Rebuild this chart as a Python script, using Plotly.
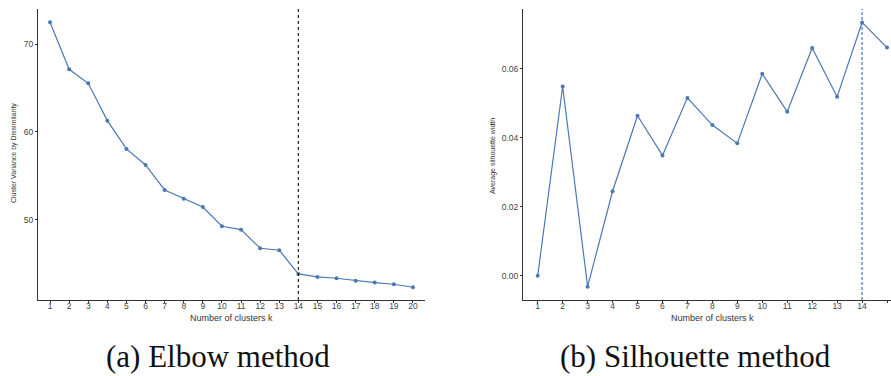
import plotly.graph_objects as go

k_elbow = list(range(1, 21))
variance = [72.47, 67.12, 65.53, 61.29, 58.07, 56.25, 53.41, 52.42, 51.47, 49.28,
            48.90, 46.78, 46.56, 43.86, 43.52, 43.37, 43.10, 42.88, 42.69, 42.35]
k_sil = list(range(1, 16))
silhouette = [0.0, 0.0549, -0.0032, 0.0245, 0.0464, 0.0349, 0.0516, 0.0437, 0.0384,
              0.0586, 0.0476, 0.0661, 0.0519, 0.0735, 0.0662]
optimal_k = 14
elbow_ticks = [50, 60, 70]
sil_ticks = [0.0, 0.02, 0.04, 0.06]
sil_tick_text = ["0.00", "0.02", "0.04", "0.06"]

W, H = 891, 376
line_color = "#4a78b3"
axis_col = "#333333"
tick_font = dict(family="Liberation Sans, Arial", size=8.5, color="#444444")

fig = go.Figure()
fig.add_trace(go.Scatter(x=k_elbow, y=variance, mode="lines+markers",
                         line=dict(color=line_color, width=1.2),
                         marker=dict(color=line_color, size=4, symbol="circle"),
                         xaxis="x", yaxis="y", showlegend=False))
fig.add_trace(go.Scatter(x=k_sil, y=silhouette, mode="lines+markers",
                         line=dict(color=line_color, width=1.2),
                         marker=dict(color=line_color, size=4, symbol="circle"),
                         xaxis="x2", yaxis="y2", showlegend=False))

y0 = 1 - 300 / H
y1 = 1 - 9 / H
common = dict(showgrid=False, zeroline=False, showline=True, linecolor=axis_col,
              linewidth=1, ticks="outside", ticklen=2, tickcolor=axis_col,
              tickfont=tick_font)

fig.update_layout(
    width=W, height=H, margin=dict(l=0, r=0, t=0, b=0),
    paper_bgcolor="white", plot_bgcolor="white",
    xaxis=dict(domain=[38 / W, 425 / W], range=[0.37, 20.63], tickvals=k_elbow,
               anchor="y", ticklabelstandoff=-4, **common),
    yaxis=dict(domain=[y0, y1], range=[40.9, 73.98], tickvals=elbow_ticks,
               anchor="x", **common),
    xaxis2=dict(domain=[523 / W, 1.0], range=[0.41, 15.16], tickvals=k_sil,
                anchor="y2", ticklabelstandoff=-4, **common),
    yaxis2=dict(domain=[y0, y1], range=[-0.00707, 0.0774], tickvals=sil_ticks,
                ticktext=sil_tick_text, anchor="x2", **common),
)

fig.add_shape(type="line", xref="x", yref="y domain", x0=optimal_k, x1=optimal_k,
              y0=0, y1=1, line=dict(color="#222222", width=1.2, dash="dot"))
fig.add_shape(type="line", xref="x2", yref="y2 domain", x0=optimal_k, x1=optimal_k,
              y0=0, y1=1, line=dict(color=line_color, width=1.2, dash="3px,2px"))

title_font = dict(family="Liberation Sans, Arial", size=9, color="#333333")
ytitle_font = dict(family="Liberation Sans Narrow, Liberation Sans, Arial", size=7,
                   color="#333333")
cap_font = dict(family="Liberation Serif, Times New Roman", size=31, color="#111111")
ann = [
    dict(text="Number of clusters k", x=232 / W, y=1 - 318 / H, font=title_font),
    dict(text="Number of clusters k", x=712 / W, y=1 - 318 / H, font=title_font),
    dict(text="Cluster Variance by Dissimilarity", x=14 / W, y=1 - 153 / H,
         font=ytitle_font, textangle=-90),
    dict(text="Average silhouette width", x=493 / W, y=1 - 156 / H,
         font=ytitle_font, textangle=-90),
    dict(text="(a) Elbow method", x=218 / W, y=1 - 356 / H, font=cap_font),
    dict(text="(b) Silhouette method", x=695 / W, y=1 - 356 / H, font=cap_font),
]
for a in ann:
    fig.add_annotation(xref="paper", yref="paper", showarrow=False,
                       xanchor="center", yanchor="middle", **a)

fig.write_html("out.html")
